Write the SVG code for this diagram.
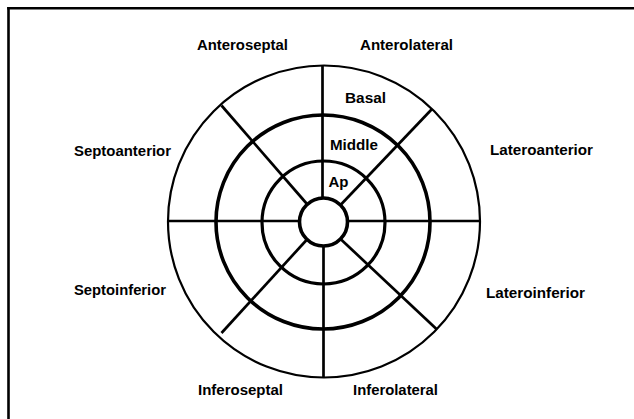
<svg xmlns="http://www.w3.org/2000/svg" width="634" height="419" viewBox="0 0 634 419">
<style>
.lbl{font-family:"Liberation Sans",Arial,sans-serif;font-weight:bold;font-size:14px;fill:#000;text-anchor:middle}
.ring{fill:none;stroke:#000}
.spoke{stroke:#000;stroke-width:2.7;stroke-linecap:butt}
</style>
<rect width="634" height="419" fill="#fff"/>
<g id="frame" stroke="#000" stroke-width="2.6" fill="none">
<line x1="8.5" y1="7" x2="8.5" y2="419"/>
<line x1="7.2" y1="8.3" x2="634" y2="8.3"/>
</g>
<g id="rings">
<circle id="basal-ring" class="ring" cx="324" cy="221.5" r="156" stroke-width="2.2"/>
<circle id="middle-ring" class="ring" cx="323" cy="222" r="107" stroke-width="3.6"/>
<circle id="apical-ring" class="ring" cx="323.5" cy="222.5" r="61.5" stroke-width="3.2"/>
<circle id="apex" class="ring" cx="323.5" cy="222" r="24" stroke-width="3.6"/>
</g>
<g id="connectors">
<line class="spoke" x1="322.5" y1="65.5" x2="322.5" y2="198"/>
<line class="spoke" x1="323.5" y1="246" x2="323.5" y2="377.5"/>
<line class="spoke" x1="168" y1="221" x2="299.5" y2="221"/>
<line class="spoke" x1="347.5" y1="221" x2="480" y2="221"/>
<line class="spoke" x1="221.5" y1="105.5" x2="307" y2="204"/>
<line class="spoke" x1="432" y1="109" x2="340.5" y2="205"/>
<line class="spoke" x1="221.5" y1="333" x2="307" y2="239.5"/>
<line class="spoke" x1="437" y1="329.5" x2="340" y2="238.5"/>
</g>
<g id="labels">
<text id="anteroseptal" class="lbl" x="242.5" y="50" textLength="91" lengthAdjust="spacingAndGlyphs">Anteroseptal</text>
<text id="anterolateral" class="lbl" x="406.5" y="49.5" textLength="93" lengthAdjust="spacingAndGlyphs">Anterolateral</text>
<text id="septoanterior" class="lbl" x="122.5" y="155.5" textLength="97" lengthAdjust="spacingAndGlyphs">Septoanterior</text>
<text id="lateroanterior" class="lbl" x="541.5" y="154.5" textLength="103" lengthAdjust="spacingAndGlyphs">Lateroanterior</text>
<text id="septoinferior" class="lbl" x="120" y="295" textLength="92" lengthAdjust="spacingAndGlyphs">Septoinferior</text>
<text id="lateroinferior" class="lbl" x="535.5" y="297.5" textLength="99" lengthAdjust="spacingAndGlyphs">Lateroinferior</text>
<text id="inferoseptal" class="lbl" x="240.5" y="394.5" textLength="85" lengthAdjust="spacingAndGlyphs">Inferoseptal</text>
<text id="inferolateral" class="lbl" x="395.5" y="394.5" textLength="85" lengthAdjust="spacingAndGlyphs">Inferolateral</text>
<text id="basal" class="lbl" x="365.5" y="102.5" textLength="41" lengthAdjust="spacingAndGlyphs">Basal</text>
<text id="middle" class="lbl" x="354" y="150" textLength="48" lengthAdjust="spacingAndGlyphs">Middle</text>
<text id="ap" class="lbl" x="338.5" y="186.5" textLength="20" lengthAdjust="spacingAndGlyphs">Ap</text>
</g>
</svg>
